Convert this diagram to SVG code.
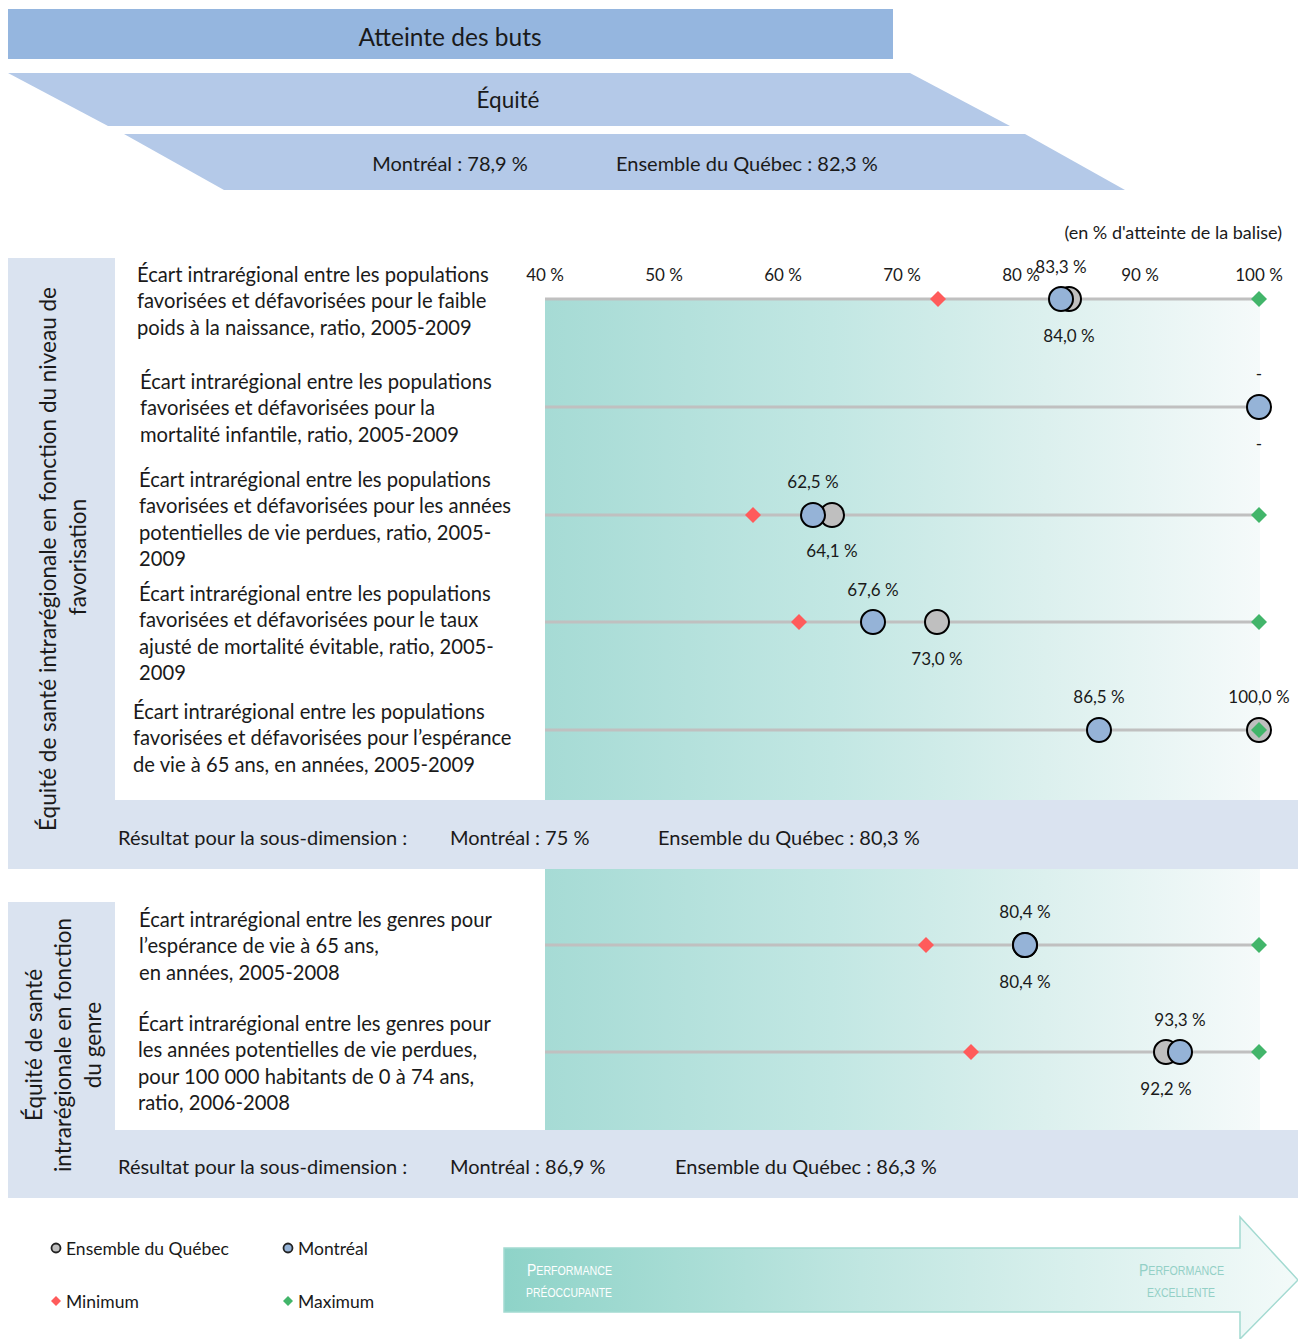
<svg xmlns="http://www.w3.org/2000/svg" width="1298" height="1339" viewBox="0 0 1298 1339">
<defs>
<linearGradient id="chartGrad" x1="0" y1="0" x2="1" y2="0">
<stop offset="0" stop-color="#a6dbd5"/>
<stop offset="0.4" stop-color="#c2e7e3"/>
<stop offset="0.7" stop-color="#dcf0ee"/>
<stop offset="1" stop-color="#f5fafa"/>
</linearGradient>
<linearGradient id="arrowGrad" x1="0" y1="0" x2="1" y2="0">
<stop offset="0" stop-color="#8ed3c8"/>
<stop offset="0.45" stop-color="#c0e6e1"/>
<stop offset="1" stop-color="#f3faf9"/>
</linearGradient>
<circle id="blue" r="12" fill="#95b3d7" stroke="#000" stroke-width="2"/>
<circle id="grey" r="12" fill="#bfbfbf" stroke="#000" stroke-width="2"/>
<polygon id="red" points="0,-8 8,0 0,8 -8,0" fill="#ff5b5b"/>
<polygon id="green" points="0,-8 8,0 0,8 -8,0" fill="#42b56a"/>
</defs>
<style>
text{font-family:Lato,"Liberation Sans",sans-serif;fill:#1a1a1a;dominant-baseline:central}
.lbl{font-size:20.2px}
.val{font-size:17px;text-anchor:middle}
.ax{font-size:17px;text-anchor:middle}
.grid{stroke:#c0c0c0;stroke-width:3}
.vl{font-size:22.5px;text-anchor:middle}
.res{font-size:20px}
.leg{font-size:17.5px}
.perf{font-family:"Liberation Sans",sans-serif}
</style>

<g id="header">
<rect x="8" y="9" width="885" height="50" fill="#95b6df"/>
<text x="450" y="36" style="font-size:24.5px" text-anchor="middle">Atteinte des buts</text>
<polygon points="8,73 910,73 1010,126 108,126" fill="#b4c9e8"/>
<text x="508" y="99" style="font-size:22.5px" text-anchor="middle">Équité</text>
<polygon points="124,134 1025,134 1125,190 224,190" fill="#b4c9e8"/>
<text x="450" y="163" style="font-size:20px" text-anchor="middle">Montréal : 78,9 %</text>
<text x="616" y="163" style="font-size:20px">Ensemble du Québec : 82,3 %</text>
</g>

<text x="1282" y="232" style="font-size:18px" text-anchor="end">(en % d'atteinte de la balise)</text>

<g id="section1-bg">
<rect x="8" y="258" width="107" height="611" fill="#dae3f0"/>
<rect x="545" y="299" width="715" height="501" fill="url(#chartGrad)"/>
<rect x="8" y="800" width="1290" height="69" fill="#dae3f0"/>
</g>
<g id="section2-bg">
<rect x="545" y="869" width="715" height="261" fill="url(#chartGrad)"/>
<rect x="8" y="902" width="107" height="296" fill="#dae3f0"/>
<rect x="8" y="1130" width="1290" height="68" fill="#dae3f0"/>
</g>

<g id="axis">
<text class="ax" x="545" y="274">40 %</text>
<text class="ax" x="664" y="274">50 %</text>
<text class="ax" x="783" y="274">60 %</text>
<text class="ax" x="902" y="274">70 %</text>
<text class="ax" x="1021" y="274">80 %</text>
<text class="ax" x="1140" y="274">90 %</text>
<text class="ax" x="1259" y="274">100 %</text>
</g>

<g id="dim1-label">
<text class="vl" transform="translate(47,559) rotate(-90)">Équité de santé intrarégionale en fonction du niveau de</text>
<text class="vl" transform="translate(77,557) rotate(-90)">favorisation</text>
</g>
<g id="dim2-label">
<text class="vl" transform="translate(33,1045) rotate(-90)">Équité de santé</text>
<text class="vl" transform="translate(62,1045) rotate(-90)">intrarégionale en fonction</text>
<text class="vl" transform="translate(92,1045) rotate(-90)">du genre</text>
</g>

<g id="connectors">
<line class="grid" x1="545" y1="299" x2="1260" y2="299"/>
<line class="grid" x1="545" y1="407" x2="1260" y2="407"/>
<line class="grid" x1="545" y1="515" x2="1260" y2="515"/>
<line class="grid" x1="545" y1="622" x2="1260" y2="622"/>
<line class="grid" x1="545" y1="730" x2="1260" y2="730"/>
<line class="grid" x1="545" y1="945" x2="1260" y2="945"/>
<line class="grid" x1="545" y1="1052" x2="1260" y2="1052"/>
</g>

<g id="row1">
<text class="lbl" x="137" y="274">Écart intrarégional entre les populations</text>
<text class="lbl" x="137" y="300">favorisées et défavorisées pour le faible</text>
<text class="lbl" x="137" y="327">poids à la naissance, ratio, 2005-2009</text>
<use href="#red" x="938" y="299"/>
<use href="#green" x="1259" y="299"/>
<use href="#grey" x="1069" y="299"/>
<use href="#blue" x="1061" y="299"/>
<text class="val" x="1061" y="266">83,3 %</text>
<text class="val" x="1069" y="335">84,0 %</text>
</g>

<g id="row2">
<text class="lbl" x="140" y="381">Écart intrarégional entre les populations</text>
<text class="lbl" x="140" y="407">favorisées et défavorisées pour la</text>
<text class="lbl" x="140" y="434">mortalité infantile, ratio, 2005-2009</text>
<use href="#blue" x="1259" y="407"/>
<text class="val" x="1259" y="373">-</text>
<text class="val" x="1259" y="443">-</text>
</g>

<g id="row3">
<text class="lbl" x="139" y="479">Écart intrarégional entre les populations</text>
<text class="lbl" x="139" y="505">favorisées et défavorisées pour les années</text>
<text class="lbl" x="139" y="532">potentielles de vie perdues, ratio, 2005-</text>
<text class="lbl" x="139" y="558">2009</text>
<use href="#red" x="753" y="515"/>
<use href="#green" x="1259" y="515"/>
<use href="#grey" x="832" y="515"/>
<use href="#blue" x="813" y="515"/>
<text class="val" x="813" y="481">62,5 %</text>
<text class="val" x="832" y="550">64,1 %</text>
</g>

<g id="row4">
<text class="lbl" x="139" y="593">Écart intrarégional entre les populations</text>
<text class="lbl" x="139" y="619">favorisées et défavorisées pour le taux</text>
<text class="lbl" x="139" y="646">ajusté de mortalité évitable, ratio, 2005-</text>
<text class="lbl" x="139" y="672">2009</text>
<use href="#red" x="799" y="622"/>
<use href="#green" x="1259" y="622"/>
<use href="#grey" x="937" y="622"/>
<use href="#blue" x="873" y="622"/>
<text class="val" x="873" y="589">67,6 %</text>
<text class="val" x="937" y="658">73,0 %</text>
</g>

<g id="row5">
<text class="lbl" x="133" y="711">Écart intrarégional entre les populations</text>
<text class="lbl" x="133" y="737">favorisées et défavorisées pour l’espérance</text>
<text class="lbl" x="133" y="764">de vie à 65 ans, en années, 2005-2009</text>
<use href="#grey" x="1259" y="730"/>
<use href="#green" x="1259" y="730"/>
<use href="#blue" x="1099" y="730"/>
<text class="val" x="1099" y="696">86,5 %</text>
<text class="val" x="1259" y="696">100,0 %</text>
</g>

<g id="result1">
<text class="res" x="118" y="837">Résultat pour la sous-dimension :</text>
<text class="res" x="450" y="837">Montréal : 75 %</text>
<text class="res" x="658" y="837">Ensemble du Québec : 80,3 %</text>
</g>

<g id="row6">
<text class="lbl" x="139" y="919">Écart intrarégional entre les genres pour</text>
<text class="lbl" x="139" y="945">l’espérance de vie à 65 ans,</text>
<text class="lbl" x="139" y="972">en années, 2005-2008</text>
<use href="#red" x="926" y="945"/>
<use href="#green" x="1259" y="945"/>
<use href="#grey" x="1025" y="945"/>
<use href="#blue" x="1025" y="945"/>
<text class="val" x="1025" y="911">80,4 %</text>
<text class="val" x="1025" y="981">80,4 %</text>
</g>

<g id="row7">
<text class="lbl" x="138" y="1023">Écart intrarégional entre les genres pour</text>
<text class="lbl" x="138" y="1049">les années potentielles de vie perdues,</text>
<text class="lbl" x="138" y="1076">pour 100 000 habitants de 0 à 74 ans,</text>
<text class="lbl" x="138" y="1102">ratio, 2006-2008</text>
<use href="#red" x="971" y="1052"/>
<use href="#green" x="1259" y="1052"/>
<use href="#grey" x="1166" y="1052"/>
<use href="#blue" x="1180" y="1052"/>
<text class="val" x="1180" y="1019">93,3 %</text>
<text class="val" x="1166" y="1088">92,2 %</text>
</g>

<g id="result2">
<text class="res" x="118" y="1166">Résultat pour la sous-dimension :</text>
<text class="res" x="450" y="1166">Montréal : 86,9 %</text>
<text class="res" x="675" y="1166">Ensemble du Québec : 86,3 %</text>
</g>

<g id="legend">
<circle cx="56" cy="1248" r="4.5" fill="#bfbfbf" stroke="#222" stroke-width="1.8"/>
<text class="leg" x="66" y="1248">Ensemble du Québec</text>
<circle cx="288" cy="1248" r="4.5" fill="#95b3d7" stroke="#222" stroke-width="1.8"/>
<text class="leg" x="298" y="1248">Montréal</text>
<polygon points="56,1296 61,1301 56,1306 51,1301" fill="#ff5b5b"/>
<text class="leg" x="66" y="1301">Minimum</text>
<polygon points="288,1296 293,1301 288,1306 283,1301" fill="#42b56a"/>
<text class="leg" x="298" y="1301">Maximum</text>
</g>

<g id="performance-arrow">
<polygon points="504,1248 1240,1248 1240,1217 1298,1280 1240,1339 1240,1312 504,1312" fill="url(#arrowGrad)" stroke="#a3dad1" stroke-width="1.5"/>
<text class="perf" x="527" y="1270" textLength="85" lengthAdjust="spacingAndGlyphs" style="fill:#ffffff"><tspan style="font-size:17px">P</tspan><tspan style="font-size:13px">ERFORMANCE</tspan></text>
<text class="perf" x="526" y="1292" textLength="86" lengthAdjust="spacingAndGlyphs" style="fill:#ffffff;font-size:13px">PRÉOCCUPANTE</text>
<text class="perf" x="1139" y="1270" textLength="85" lengthAdjust="spacingAndGlyphs" style="fill:#93d0c6"><tspan style="font-size:17px">P</tspan><tspan style="font-size:13px">ERFORMANCE</tspan></text>
<text class="perf" x="1147" y="1292" textLength="68" lengthAdjust="spacingAndGlyphs" style="fill:#93d0c6;font-size:13px">EXCELLENTE</text>
</g>
</svg>
